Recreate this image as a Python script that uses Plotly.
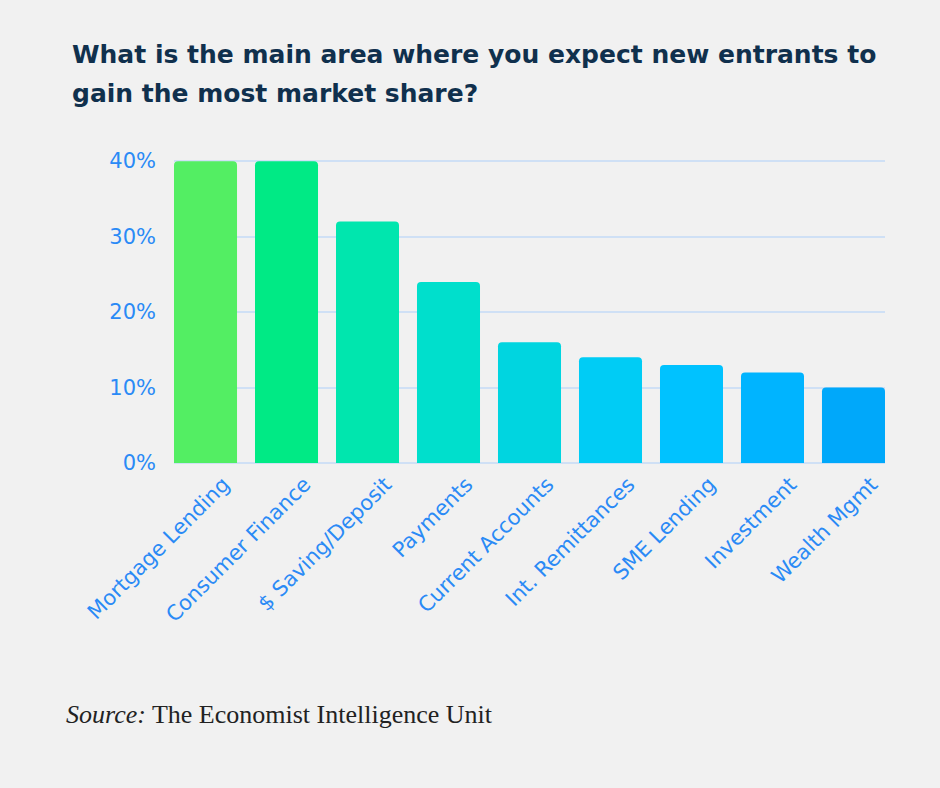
import plotly.graph_objects as go

categories = ["Mortgage Lending", "Consumer Finance", "$ Saving/Deposit", "Payments",
              "Current Accounts", "Int. Remittances", "SME Lending", "Investment", "Wealth Mgmt"]
values = [40, 40, 32, 24, 16, 14, 13, 12, 10]
bar_colors = ["#53EE63", "#00EA85", "#00E6AE", "#00DFCC", "#00D5E0",
              "#00CCF5", "#00C2FF", "#00B4FF", "#00A8FA"]
y_ticks = [0, 10, 20, 30, 40]
y_tick_labels = [f"{v}%" for v in y_ticks]
title_lines = ["What is the main area where you expect new entrants to",
               "gain the most market share?"]

TICK_COLOR = "#2A8AF6"
FONT = "DejaVu Sans"
BG = "#F1F1F1"
GRID = "#CFE0F5"
BARGAP = 0.222
PAD = BARGAP / 2

fig = go.Figure(go.Bar(
    x=categories, y=values,
    marker=dict(color=bar_colors, line=dict(width=0), cornerradius=4),
    hoverinfo="skip",
))

fig.update_layout(
    width=940, height=788,
    paper_bgcolor=BG, plot_bgcolor=BG,
    margin=dict(l=174, r=55, t=160, b=325),
    bargap=BARGAP,
    showlegend=False,
    xaxis=dict(
        range=[-0.5 + PAD, len(categories) - 0.5 - PAD],
        tickangle=-45, tickfont=dict(family=FONT, size=21, color=TICK_COLOR),
        showgrid=False, showline=False, ticks="", ticklen=0,
        ticklabelshift=18, ticklabelstandoff=4, fixedrange=True,
    ),
    yaxis=dict(
        range=[0, 40.15], tickvals=y_ticks, ticktext=y_tick_labels,
        tickfont=dict(family=FONT, size=21, color=TICK_COLOR),
        showgrid=True, gridcolor=GRID, gridwidth=1.5,
        zeroline=True, zerolinecolor=GRID, zerolinewidth=1.5,
        showline=False, ticks="", ticklabelstandoff=17, fixedrange=True,
    ),
)

for i, (line, yc) in enumerate(zip(title_lines, [54, 93])):
    fig.add_annotation(
        text=line, xref="paper", yref="paper",
        x=(70 - 174) / 711, y=1 + (160 - yc) / 303, xanchor="left", yanchor="middle",
        align="left", showarrow=False,
        font=dict(family=FONT, size=25, color="#10304D", weight="bold"),
    )
fig.add_annotation(
    text="<i>Source:</i> The Economist Intelligence Unit", xref="paper", yref="paper",
    x=(64 - 174) / 711, y=-(714 - 463) / 303, xanchor="left", yanchor="middle",
    showarrow=False,
    font=dict(family="Liberation Serif", size=26, color="#222222"),
)

fig.write_html(
    "out.html",
    config={"displayModeBar": False},
    post_script="document.body.style.margin='0';document.body.style.background='" + BG + "';",
)
